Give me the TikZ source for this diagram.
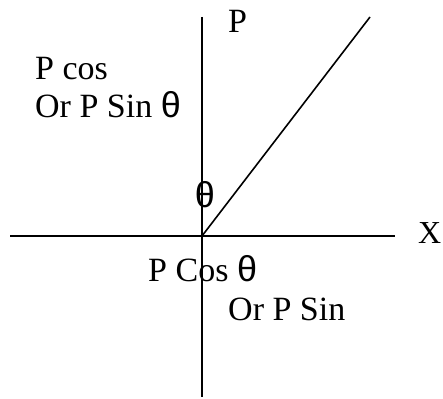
\documentclass[tikz,border=0pt]{standalone}
\usepackage{fontspec}
\setmainfont{Liberation Serif}
\newfontfamily\thetafont{Liberation Sans}
\begin{document}
\begin{tikzpicture}[x=1pt,y=1pt,
  axis/.style={line width=1.6pt},
  lbl/.style={anchor=base west,inner sep=0pt,font=\fontsize{34}{40}\selectfont}]
\useasboundingbox (0,0) rectangle (443,398);
\coordinate (O) at (202,162);
\coordinate (top) at (202,381);
\coordinate (bot) at (202,1);
\coordinate (left) at (10,162);
\coordinate (right) at (395,162);
\coordinate (tip) at (370,381);
\draw[axis] (top) -- (bot);
\draw[axis] (left) -- (right);
\draw[axis] (O) -- (tip);
\node[lbl] (p) at (228,365) {P};
\node[lbl] (pcos) at (35,318) {P cos};
\node[lbl] (orsin) at (35,280) {Or P Sin {\fontsize{36}{40}\thetafont θ}};
\node[inner sep=0pt,font=\fontsize{36}{40}\selectfont\thetafont] (th) at (205,203) {θ};
\node[lbl,font=\fontsize{32}{40}\selectfont] (x) at (418,154) {X};
\node[lbl] (pcost) at (148,116) {P Cos {\fontsize{36}{40}\thetafont θ}};
\node[lbl] (orp) at (228,77) {Or P Sin};
\end{tikzpicture}
\end{document}
